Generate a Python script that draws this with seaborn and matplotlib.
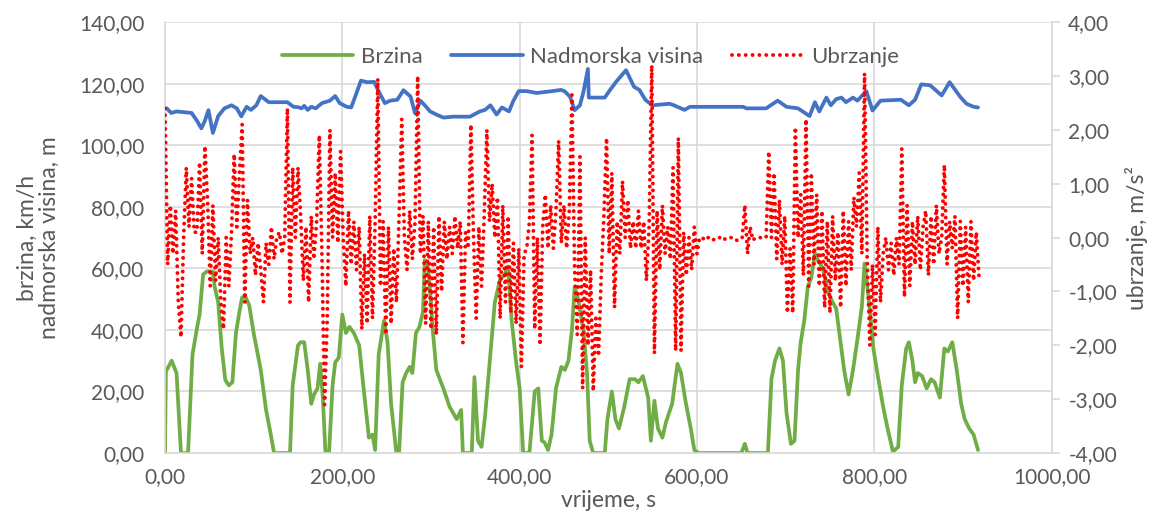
import numpy as np
import seaborn as sns
import matplotlib.pyplot as plt
from matplotlib.ticker import FuncFormatter, MultipleLocator

# brzina (km/h) - vrijeme (s)
speed_t = [0, 1, 2, 7.5, 13, 18, 26, 31, 36, 39, 43, 47, 54, 56, 60, 64, 68, 72, 76, 80, 84, 87, 91, 95,
           100, 108, 114, 119, 123, 141, 144, 150, 153, 157, 161, 165, 168, 172, 175, 178, 181, 185, 189,
           192, 196, 200, 204, 208, 213, 219, 224, 230, 234, 237, 241, 247, 251, 255, 261, 264, 268, 272,
           276, 279, 283, 287, 291, 293, 297, 300, 302, 306, 314, 321, 329, 334, 336, 346, 349, 353, 357,
           361, 367, 372, 378, 383, 387, 391, 396, 400, 404, 411, 417, 421, 425, 428, 432, 436, 441, 447,
           451, 455, 459, 462, 466, 472, 476, 479, 483, 496, 499, 504, 508, 512, 518, 524, 530, 534, 539,
           545, 548, 552, 556, 561, 565, 572, 578, 582, 587, 593, 597, 602, 650, 654, 657, 680, 684, 688,
           693, 697, 701, 706, 710, 714, 717, 721, 725, 729, 733, 736, 742, 748, 753, 757, 761, 766, 771,
           776, 781, 786, 789, 793, 799, 804, 810, 815, 821, 827, 831, 836, 839, 843, 846, 849, 854, 859,
           864, 868, 874, 879, 883, 888, 893, 898, 902, 907, 912, 917]
speed_v = [0, 27, 27, 30, 26, 0, 0, 32, 40.5, 45, 58, 59, 59, 54, 49, 34, 23.7, 22, 23, 39, 46, 50.6, 50.6, 48,
           39, 27, 14, 6.5, 0, 0, 22, 35, 36, 36, 27, 16, 19, 21, 29, 18, 0, 0, 22,
           29.5, 31, 45, 39, 41, 39, 35, 21, 5, 6, 1, 32, 43, 36, 16, 0, 0, 23, 26,
           28, 26, 39, 41, 46, 62.7, 60, 49, 40, 27, 21, 15, 11, 14, 0, 0, 24.7, 4, 2,
           12, 32, 49, 56.5, 58, 60.6, 43, 29.6, 21, 0, 0, 20, 21, 4, 3.5, 1, 6, 21, 28,
           27, 30, 40, 54, 50, 40, 26, 4, 0, 0, 11, 20, 11, 8, 15, 24, 24, 23, 25,
           18, 4, 17, 8, 5, 10, 16, 29, 26, 17, 8, 1, 0, 0, 3, 0, 0, 24, 30,
           34, 30, 13, 3, 4, 27, 36, 43, 54, 57, 65, 63, 60, 52, 49, 47, 38, 27, 19,
           27, 37, 47.6, 61.6, 52, 34, 25, 15, 8, 0.5, 2, 22, 34, 36, 30, 23, 26, 25, 21,
           24, 23, 18, 34, 33, 36, 27, 16, 11, 8, 6, 1]

# nadmorska visina (m)
alt_t = [0, 2, 7, 13, 30, 36, 41, 45, 49, 54, 60, 67, 75, 81, 86, 92, 97, 103, 108, 117, 138, 145, 150, 154,
         157, 161, 165, 170, 177, 186, 192, 197, 205, 210, 215, 221, 228, 236, 241, 248, 254, 262, 269, 277,
         282, 288, 293, 299, 306, 314, 325, 344, 355, 361, 367, 374, 380, 388, 393, 399, 408, 419, 434, 447,
         451, 457, 462, 468, 472, 477, 478, 496, 501, 509, 520, 529, 535, 542, 550, 569, 574, 586, 592, 608,
         652, 656, 678, 691, 701, 714, 727, 733, 738, 746, 751, 757, 763, 768, 776, 781, 791, 798, 807, 830,
         839, 846, 853, 863, 876, 885, 897, 904, 912, 917]
alt_h = [112, 112, 110.5, 111, 110.5, 108, 105.5, 108, 111.4, 104, 109.5, 112, 113, 112, 109.4, 112.5, 111.5, 113,
         116, 114, 114, 112.5, 112.4, 112, 112.8, 111.5, 112.5, 112, 113.7, 114.5, 116, 113.7, 112.5, 112.3,
         116.2, 121, 120.5, 120.6, 117.5, 113.7, 114.5, 114.8, 117.9, 115.8, 110.4, 114.5, 113, 111, 110, 109,
         109.3, 109.3, 111, 111.5, 113, 110, 112.3, 111, 114.5, 117.6, 117.6, 117, 117.5, 118, 117.5, 115.7,
         111.4, 113, 117.4, 124.8, 115.5, 115.5, 117.6, 120.7, 124.4, 119, 118, 114.7, 113, 113.5, 113, 111.5,
         112.5, 112.5, 112.5, 112, 112, 114.5, 112.5, 112, 109.5, 114, 111, 115.5, 113, 115, 115.5, 114, 115.5,
         114.5, 117.6, 111.3, 114.5, 114.8, 113, 114.8, 119.8, 119.5, 116.2, 120.5, 115.7, 113.5, 112.5, 112.3]

# ubrzanje (m/s2), svake 3 s
accel = [2.4, -0.5, 0.6, -0.3, 0.5, -1.2, -1.85, 0.0, 1.3, 0.2, 1.1, 0.1, 0.1, 1.4, -0.3, 1.7,
         0.7, -0.9, 0.6, -0.8, 0.0, -1.2, -1.7, 0.0, -0.9, 0.1, 1.55, 0.2, 1.2, 2.1, -1.2, 0.7,
         -0.3, 0.0, -0.7, -0.1, -0.6, -1.2, -0.1, -0.5, 0.2, -0.4, 0.0, 0.1, -0.3, 0.0, 2.4, -1.2,
         1.3, 0.0, 1.3, 0.4, -0.8, 0.2, -1.2, 0.4, -0.4, 0.3, 1.9, -0.3, -3.1, -1.5, 2.0, 0.0,
         1.2, -0.1, 1.6, 0.0, -0.9, 0.5, -0.5, 0.3, -0.6, 0.2, -1.7, -0.3, -1.6, 0.4, -1.5, 0.3,
         2.95, -0.9, 0.3, -1.8, 0.2, -1.6, -0.2, -1.2, 0.4, 2.2, 0.0, -0.6, 0.5, -0.4, 0.3, 3.0,
         -0.3, 0.4, -1.6, 0.3, -1.7, 0.2, -1.8, 0.4, -1.0, 0.3, -0.4, 0.2, -0.3, 0.4, -0.2, 0.3,
         -1.95, 0.1, -0.2, 2.1, 0.0, -1.5, 0.2, -0.9, 0.4, 2.0, 0.3, 1.0, 0.0, 0.75, -1.5, 0.6,
         -1.2, 0.4, -1.4, -0.1, -1.6, -0.2, -2.4, -0.3, -0.2, 0.3, 1.9, -1.7, 0.0, -2.0, 0.2, 0.8,
         -0.2, 0.6, -0.2, 0.5, 1.8, -0.1, 0.6, -0.2, 0.5, 2.65, -0.6, -1.8, 1.5, -2.8, 0.0, -2.0,
         -0.6, -2.85, -1.5, -2.2, -0.7, 0.4, 1.85, -0.3, 1.2, -1.3, 0.3, -0.3, 1.05, 0.0, 0.7, -0.2,
         0.3, -0.2, 0.5, -0.2, 0.3, -0.8, 0.2, 3.2, -2.15, 0.5, -0.6, 0.6, -0.3, 0.2, -0.4, 1.3,
         -2.1, 1.85, -2.1, 0.1, -0.7, 0.0, -0.6, 0.2, -0.3, 0.0, 0.0, -0.05, 0.0, 0.0, -0.05, 0.0,
         0.0, 0.0, -0.05, 0.0, 0.0, 0.0, 0.0, -0.05, 0.0, 0.0, 0.6, -0.3, 0.2, -0.05, 0.0, 0.0,
         0.0, 0.0, 0.0, 1.6, 0.0, 1.2, -0.4, 0.7, -0.5, 0.4, -1.4, -0.2, -1.4, 2.05, 0.0, 0.8,
         -0.7, 2.2, -0.9, 1.2, -0.5, 0.8, -0.9, 0.5, -1.3, 0.3, -1.4, 0.4, -0.8, 0.1, -1.3, 0.5,
         -0.9, 0.3, -0.6, 0.75, 0.2, 1.2, -0.3, 3.05, -0.4, -2.0, -0.5, -1.8, 0.2, -1.2, -0.3, 0.0,
         -0.6, -0.1, -0.7, 0.0, -0.5, 1.65, -1.1, 0.6, -0.9, 0.3, -0.5, 0.4, -0.6, 0.2, 0.5, -0.7,
         0.4, -0.5, 0.6, -0.3, 0.0, 1.35, -0.5, 0.3, -0.2, 0.4, -1.5, 0.3, -0.9, 0.2, -1.2, 0.3,
         -0.8, 0.1, -0.7]
accel_t = np.arange(len(accel)) * 3

sns.set_style("white")
plt.rcParams['font.family'] = ['Lato', 'DejaVu Sans']
grey = '#595959'
gridc = '#d9d9d9'

fig, ax = plt.subplots(figsize=(11.62, 5.16), dpi=100)
fig.subplots_adjust(left=0.142, right=0.905, top=0.957, bottom=0.122)
ax2 = ax.twinx()

sns.lineplot(x=speed_t, y=speed_v, ax=ax, color='#70AD47', linewidth=2.7, label='Brzina', legend=False)
sns.lineplot(x=alt_t, y=alt_h, ax=ax, color='#4472C4', linewidth=2.7, label='Nadmorska visina', legend=False)
sns.lineplot(x=accel_t, y=accel, ax=ax2, color='#FF0000', linewidth=2.8, label='Ubrzanje', legend=False)
red = ax2.lines[-1]
red.set_linestyle((0, (0.01, 1.75)))
red.set_dash_capstyle('round')

fmt = FuncFormatter(lambda v, p: f"{v:.2f}".replace('.', ','))
ax.set_xlim(0, 1000)
ax.set_ylim(0, 140)
ax2.set_ylim(-4, 4)
ax.xaxis.set_major_locator(MultipleLocator(200))
ax.yaxis.set_major_locator(MultipleLocator(20))
ax2.yaxis.set_major_locator(MultipleLocator(1))
for a in (ax.xaxis, ax.yaxis, ax2.yaxis):
    a.set_major_formatter(fmt)

ax.grid(True, color=gridc, linewidth=1.2)
ax.set_axisbelow(True)
for s in ax.spines.values():
    s.set_visible(False)
for s in ax2.spines.values():
    s.set_visible(False)
ax.spines['left'].set_visible(True)
ax.spines['bottom'].set_visible(True)
ax2.spines['right'].set_visible(True)
for s in (ax.spines['left'], ax.spines['bottom'], ax2.spines['right']):
    s.set_color(gridc)
    s.set_linewidth(1.2)

ax.tick_params(axis='both', length=0, labelsize=15, labelcolor=grey)
ax.tick_params(axis='y', pad=15)
ax.tick_params(axis='x', pad=10)
ax2.tick_params(axis='y', length=6, color=gridc, width=1.2, labelsize=15, labelcolor=grey, pad=6)

ax.set_xlabel('vrijeme, s', fontsize=16.5, color=grey, labelpad=2)
ax.set_ylabel('brzina, km/h\nnadmorska visina, m', fontsize=16.5, color=grey, labelpad=14, linespacing=1.05)
ax2.set_ylabel('ubrzanje, m/s²', fontsize=16.5, color=grey, labelpad=6)

h1, l1 = ax.get_legend_handles_labels()
h2, l2 = ax2.get_legend_handles_labels()
ax2.legend(h1 + h2, l1 + l2, loc='center', bbox_to_anchor=(0.48, 0.919), ncol=3, frameon=False,
           fontsize=16, labelcolor=grey, handlelength=3.2, columnspacing=1.3, handletextpad=0.35)

fig.savefig('out.png', dpi=100)
